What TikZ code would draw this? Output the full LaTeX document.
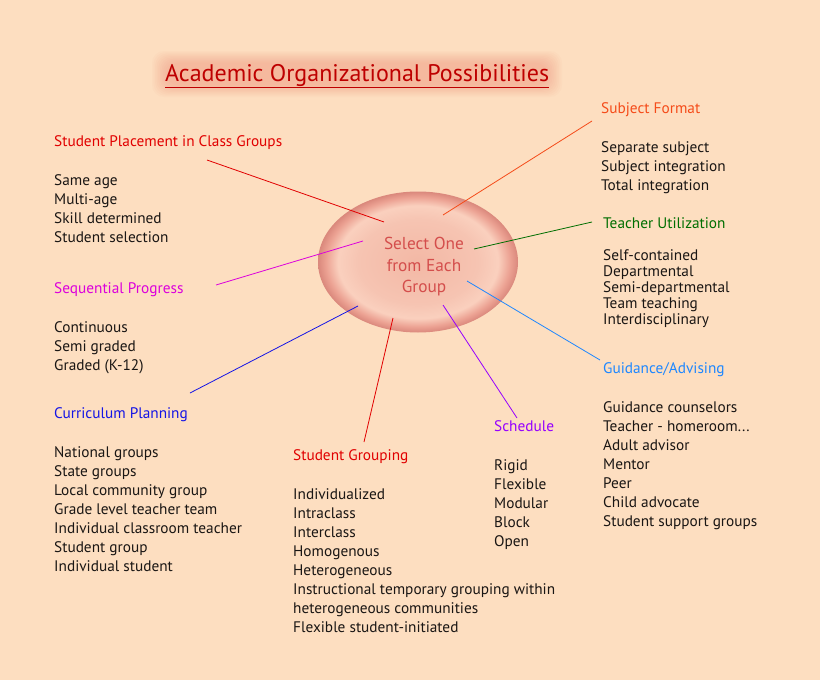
\documentclass[tikz,border=0pt]{standalone}
\usepackage{fontspec}
\setmainfont{PT Sans}
\usetikzlibrary{calc,shapes.geometric}
\definecolor{pagebg}{RGB}{253,222,192}
\definecolor{itemtext}{RGB}{26,22,20}
\definecolor{titlered}{RGB}{190,0,0}
\definecolor{glowred}{RGB}{245,120,100}
\definecolor{placered}{RGB}{225,0,0}
\definecolor{formatorange}{RGB}{245,75,25}
\definecolor{teachgreen}{RGB}{0,110,0}
\definecolor{seqmagenta}{RGB}{220,0,220}
\definecolor{guideblue}{RGB}{30,135,255}
\definecolor{currblue}{RGB}{20,20,230}
\definecolor{schedviolet}{RGB}{150,0,255}
\definecolor{seltext}{RGB}{212,78,76}
\pgfdeclareradialshading{selshade}{\pgfpoint{0bp}{0bp}}{%
  color(0bp)=(rgb,255:red,243;green,184;blue,165);
  color(15bp)=(rgb,255:red,246;green,196;blue,178);
  color(20bp)=(rgb,255:red,250;green,208;blue,190);
  color(23bp)=(rgb,255:red,236;green,162;blue,147);
  color(25bp)=(rgb,255:red,218;green,136;blue,124);
  color(50bp)=(rgb,255:red,218;green,136;blue,124)}
\tikzset{
  grp head/.style={anchor=base west,inner sep=0pt,font=\fontsize{15.3}{19}\selectfont},
  grp list/.style={anchor=base west,inner sep=0pt,align=left,text=itemtext,
    font=\fontsize{15.3}{19}\selectfont},
  grp link/.style={line width=0.8pt},
  sel oval/.style={ellipse,minimum width=200pt,minimum height=141pt,inner sep=0pt,
    shading=selshade},
  sel note/.style={align=center,inner sep=0pt,text=seltext,
    font=\fontsize{17.3}{21.5}\selectfont}
}

\begin{document}
\begin{tikzpicture}[x=1pt,y=-1pt]
  \fill[pagebg] (0,0) rectangle (820,680);
  \useasboundingbox (0,0) rectangle (820,680);

  % title with glow
  \foreach \g in {1,...,10}
    \fill[glowred,opacity=0.04,rounded corners=12pt]
      (168-1.6*\g,64-1.3*\g) rectangle (546+1.6*\g,84+1.3*\g);
  \node[anchor=base west,inner sep=0pt,text=titlered,font=\fontsize{24}{28}\selectfont]
    (title) at (165,81) {\underline{Academic Organizational Possibilities}};

  \node[sel oval] (sel) at (418,262) {};
  \node[sel note] (selnote) at (424,267) {Select One\\from Each\\Group};

  % left column
  \node[grp head,text=placered] (place) at (54,146) {Student Placement in Class Groups};
  \node[grp list] (placelist) at (54,242) {Same age\\Multi-age\\Skill determined\\Student selection};
  \node[grp head,text=seqmagenta] (seq) at (54,293) {Sequential Progress};
  \node[grp list] (seqlist) at (54,370) {Continuous\\Semi graded\\Graded (K-12)};
  \node[grp head,text=currblue] (curr) at (54,418) {Curriculum Planning};
  \node[grp list] (currlist) at (54,571) {National groups\\State groups\\Local community group\\Grade level teacher team\\Individual classroom teacher\\Student group\\Individual student};

  % bottom middle
  \node[grp head,text=placered] (grouping) at (293,460) {Student Grouping};
  \node[grp list] (groupinglist) at (293,632) {Individualized\\Intraclass\\Interclass\\Homogenous\\Heterogeneous\\Instructional temporary grouping within\\heterogeneous communities\\Flexible student-initiated};
  \node[grp head,text=schedviolet] (sched) at (494,431) {Schedule};
  \node[grp list] (schedlist) at (494,546) {Rigid\\Flexible\\Modular\\Block\\Open};

  % right column
  \node[grp head,text=formatorange] (format) at (601,113) {Subject Format};
  \node[grp list] (formatlist) at (601,190) {Separate subject\\Subject integration\\Total integration};
  \node[grp head,text=teachgreen] (teach) at (603,228) {Teacher Utilization};
  \node[grp list,font=\fontsize{15.3}{16}\selectfont] (teachlist) at (603,324) {Self-contained\\Departmental\\Semi-departmental\\Team teaching\\Interdisciplinary};
  \node[grp head,text=guideblue] (guide) at (603,373) {Guidance/Advising};
  \node[grp list] (guidelist) at (603,526) {Guidance counselors\\Teacher - homeroom...\\Adult advisor\\Mentor\\Peer\\Child advocate\\Student support groups};

  % connector ends
  \coordinate (placeend) at (207,160);
  \coordinate (seqend) at (216,285);
  \coordinate (currend) at (190,393);
  \coordinate (groupingend) at (364,442);
  \coordinate (schedend) at (517,418);
  \coordinate (formatend) at (592,121);
  \coordinate (teachend) at (592,222);
  \coordinate (guideend) at (600,360);

  \draw[grp link,placered] ($(sel.center)+(-34,-40)$) -- (placeend);
  \draw[grp link,seqmagenta] ($(sel.center)+(-55,-21)$) -- (seqend);
  \draw[grp link,currblue] ($(sel.center)+(-60,44)$) -- (currend);
  \draw[grp link,placered] ($(sel.center)+(-25,56)$) -- (groupingend);
  \draw[grp link,schedviolet] ($(sel.center)+(25,43)$) -- (schedend);
  \draw[grp link,formatorange] ($(sel.center)+(25,-47)$) -- (formatend);
  \draw[grp link,teachgreen] ($(sel.center)+(56,-13)$) -- (teachend);
  \draw[grp link,guideblue] ($(sel.center)+(49,19)$) -- (guideend);
\end{tikzpicture}
\end{document}
